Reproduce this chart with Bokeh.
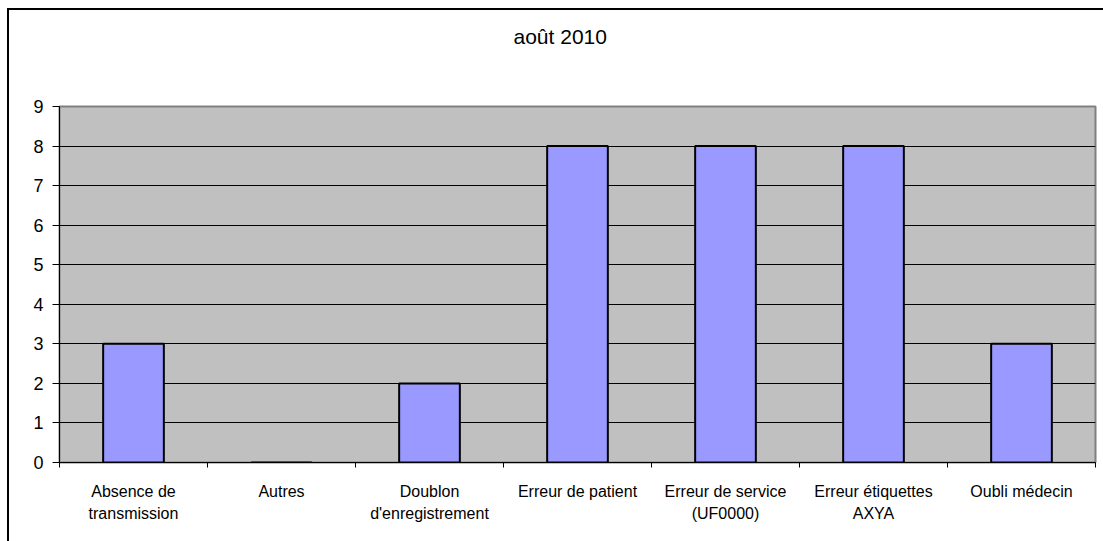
from bokeh.plotting import figure
from bokeh.models import Range1d, FixedTicker, ColumnDataSource
from bokeh.embed import file_html
from bokeh.resources import INLINE

# Data
categories = [
    "Absence de\ntransmission",
    "Autres",
    "Doublon\nd'enregistrement",
    "Erreur de patient",
    "Erreur de service\n(UF0000)",
    "Erreur étiquettes\nAXYA",
    "Oubli médecin",
]
counts = [3, 0, 2, 8, 8, 8, 3]
y_ticks = [0, 1, 2, 3, 4, 5, 6, 7, 8, 9]
title_text = "août 2010"

positions = list(range(len(categories)))
source = ColumnDataSource(dict(x=positions, top=counts))

p = figure(
    width=1103, height=541,
    x_range=Range1d(-0.5, len(categories) - 0.5),
    y_range=Range1d(0, 9),
    output_backend="svg", toolbar_location=None,
    min_border_left=59, min_border_right=8,
    min_border_top=106, min_border_bottom=79,
    # two blank lines under the title keep it high above the frame
    title=title_text + "\n \n ",
)
p.title.align = "left"
p.title.offset = 454
p.title.standoff = 26
p.title.text_font = "Liberation Sans"
p.title.text_font_size = "21px"
p.title.text_font_style = "normal"
p.title.text_color = "black"

p.background_fill_color = "#C0C0C0"
p.border_fill_alpha = 0
p.outline_line_color = "#808080"
p.outline_line_width = 2
# chart area border along the top and left edges
p.styles = {"box-shadow": "inset 7px 8px 0 0 white, inset 9px 10px 0 0 black",
            "background": "white"}

# bars
p.vbar(x="x", top="top", bottom=0, width=0.41, source=source,
       fill_color="#9999FF", line_color="black", line_width=2)

# grid
p.xgrid.visible = False
p.ygrid.ticker = FixedTicker(ticks=y_ticks)
p.ygrid.grid_line_color = "black"
p.ygrid.grid_line_width = 1

# x axis: labels at category centers, small ticks at boundaries
xa = p.xaxis[0]
xa.ticker = FixedTicker(ticks=positions,
                        minor_ticks=[i - 0.5 for i in range(len(categories) + 1)])
xa.major_label_overrides = {i: c for i, c in zip(positions, categories)}
xa.major_tick_out = 0
xa.major_tick_in = 0
xa.minor_tick_out = 5
xa.minor_tick_in = 0
xa.minor_tick_line_color = "black"
xa.axis_line_color = "black"
xa.major_label_standoff = 15
xa.major_label_text_font = "Liberation Sans"
xa.major_label_text_font_size = "16px"
xa.major_label_text_color = "black"
xa.major_label_text_line_height = 1.3

ya = p.yaxis[0]
ya.ticker = FixedTicker(ticks=y_ticks)
ya.major_tick_out = 7
ya.major_tick_in = 0
ya.minor_tick_out = 0
ya.minor_tick_in = 0
ya.major_tick_line_color = "black"
ya.axis_line_color = "black"
ya.major_label_standoff = 9
ya.major_label_text_font = "Liberation Sans"
ya.major_label_text_font_size = "18px"
ya.major_label_text_color = "black"

open("out.html", "w").write(file_html(p, INLINE))
